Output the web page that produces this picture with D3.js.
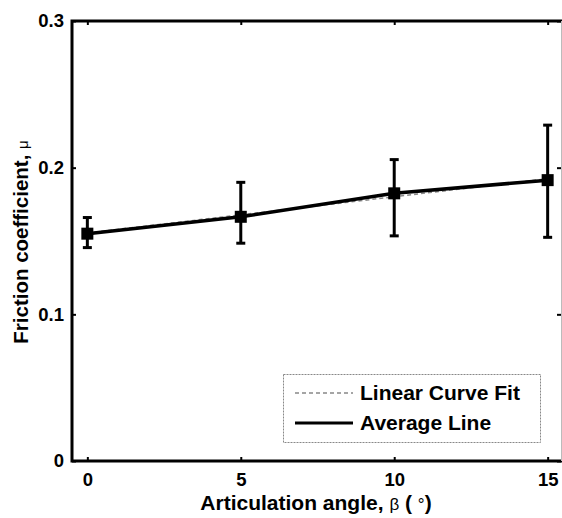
<!DOCTYPE html>
<html><head><meta charset="utf-8">
<script src="https://cdn.jsdelivr.net/npm/d3@7"></script>
<style>body{margin:0;background:#fff}svg{display:block}text{font-family:"Liberation Sans",Arial,sans-serif;font-weight:bold;fill:#000}</style>
</head><body><svg id="c" width="562" height="518"></svg>
<script>
const angles = [0, 5, 10, 15];
const meanMu = [0.155, 0.1665, 0.1825, 0.1915];
const errLow = [0.1455, 0.1485, 0.1535, 0.1525];
const errHigh = [0.166, 0.190, 0.2055, 0.229];
const fitX = [0, 15];
const fitY = [0.1555, 0.1925];
const xTicks = [0, 5, 10, 15];
const yTicks = [0, 0.1, 0.2, 0.3];
const legendLabels = ["Linear Curve Fit", "Average Line"];

const svg = d3.select("#c");
const x = d3.scaleLinear().domain([-0.5, 15.5]).range([72, 563]);
const y = d3.scaleLinear().domain([0, 0.3]).range([461, 21]);

const g = svg.append("g");
g.append("g").attr("transform","translate(0,461)")
  .call(d3.axisBottom(x).tickValues(xTicks).tickSize(-4).tickPadding(12).tickFormat(d3.format("d")))
  .call(a=>{a.select(".domain").remove();a.selectAll("line").attr("stroke","#000").attr("stroke-width",2);a.selectAll("text").attr("font-size",18.5);});
g.append("g").attr("transform","translate(0,21)")
  .call(d3.axisTop(x).tickValues(xTicks).tickSize(-4).tickFormat(""))
  .call(a=>{a.select(".domain").remove();a.selectAll("line").attr("stroke","#000").attr("stroke-width",2);});
g.append("g").attr("transform","translate(72,0)")
  .call(d3.axisLeft(y).tickValues(yTicks).tickSize(-4).tickPadding(8).tickFormat(d=>d===0?"0":d3.format(".1f")(d)))
  .call(a=>{a.select(".domain").remove();a.selectAll("line").attr("stroke","#000").attr("stroke-width",2);a.selectAll("text").attr("font-size",18.5);});
g.append("g").attr("transform","translate(561,0)")
  .call(d3.axisRight(y).tickValues(yTicks).tickSize(-4).tickFormat(""))
  .call(a=>{a.select(".domain").remove();a.selectAll("line").attr("stroke","#000").attr("stroke-width",2);});
g.append("path").attr("fill","none").attr("stroke","#000").attr("stroke-width",3)
  .attr("d",`M${x.range()[1]},${y(0.3)}H${x.range()[0]}V${y(0)}H${x.range()[1]}`);
g.append("line").attr("x1",561.5).attr("x2",561.5).attr("y1",y(0.3)).attr("y2",y(0)).attr("stroke","#bbb").attr("stroke-width",1);

const eb = svg.append("g").attr("stroke","#000").attr("stroke-width",3);
angles.forEach((a,i)=>{
  eb.append("line").attr("x1",x(a)).attr("x2",x(a)).attr("y1",y(errLow[i])).attr("y2",y(errHigh[i]));
  [errLow[i],errHigh[i]].forEach(v=>eb.append("line").attr("x1",x(a)-4.5).attr("x2",x(a)+4.5).attr("y1",y(v)).attr("y2",y(v)));
});

svg.append("path").datum(fitX.map((a,i)=>[a,fitY[i]]))
  .attr("fill","none").attr("stroke","#888").attr("stroke-width",1.5).attr("stroke-dasharray","4,3")
  .attr("d",d3.line().x(d=>x(d[0])).y(d=>y(d[1])));
svg.append("path").datum(angles.map((a,i)=>[a,meanMu[i]]))
  .attr("fill","none").attr("stroke","#000").attr("stroke-width",3.5)
  .attr("d",d3.line().x(d=>x(d[0])).y(d=>y(d[1])));
svg.append("g").selectAll("rect").data(angles).join("rect")
  .attr("x",(d)=>x(d)-6).attr("y",(d,i)=>y(meanMu[i])-6).attr("width",12).attr("height",12).attr("fill","#000");

const lg = svg.append("g");
lg.append("rect").attr("x",283.5).attr("y",374.5).attr("width",257).attr("height",68)
  .attr("fill","#fff").attr("stroke","#888").attr("stroke-width",1).attr("stroke-dasharray","2,1");
lg.append("line").attr("x1",295).attr("x2",353).attr("y1",393).attr("y2",393).attr("stroke","#888").attr("stroke-width",1.5).attr("stroke-dasharray","4,3");
lg.append("line").attr("x1",295).attr("x2",353).attr("y1",423).attr("y2",423).attr("stroke","#000").attr("stroke-width",3);
lg.selectAll("text").data(legendLabels).join("text")
  .attr("x",360).attr("y",(d,i)=>400+i*30).attr("font-size",21).text(d=>d);

const xl = svg.append("text").attr("x",316).attr("y",510).attr("text-anchor","middle").attr("font-size",21);
xl.append("tspan").text("Articulation angle, ");
xl.append("tspan").attr("font-weight","normal").attr("font-size",17).text("β");
xl.append("tspan").text(" ( ");
xl.append("tspan").attr("font-weight","normal").attr("font-size",17).text("°");
xl.append("tspan").text(")");
const yl = svg.append("text").attr("transform","translate(28,242) rotate(-90)").attr("text-anchor","middle").attr("font-size",20.5);
yl.append("tspan").text("Friction coefficient, ");
yl.append("tspan").attr("font-weight","normal").attr("font-size",15).text("μ");
</script></body></html>
